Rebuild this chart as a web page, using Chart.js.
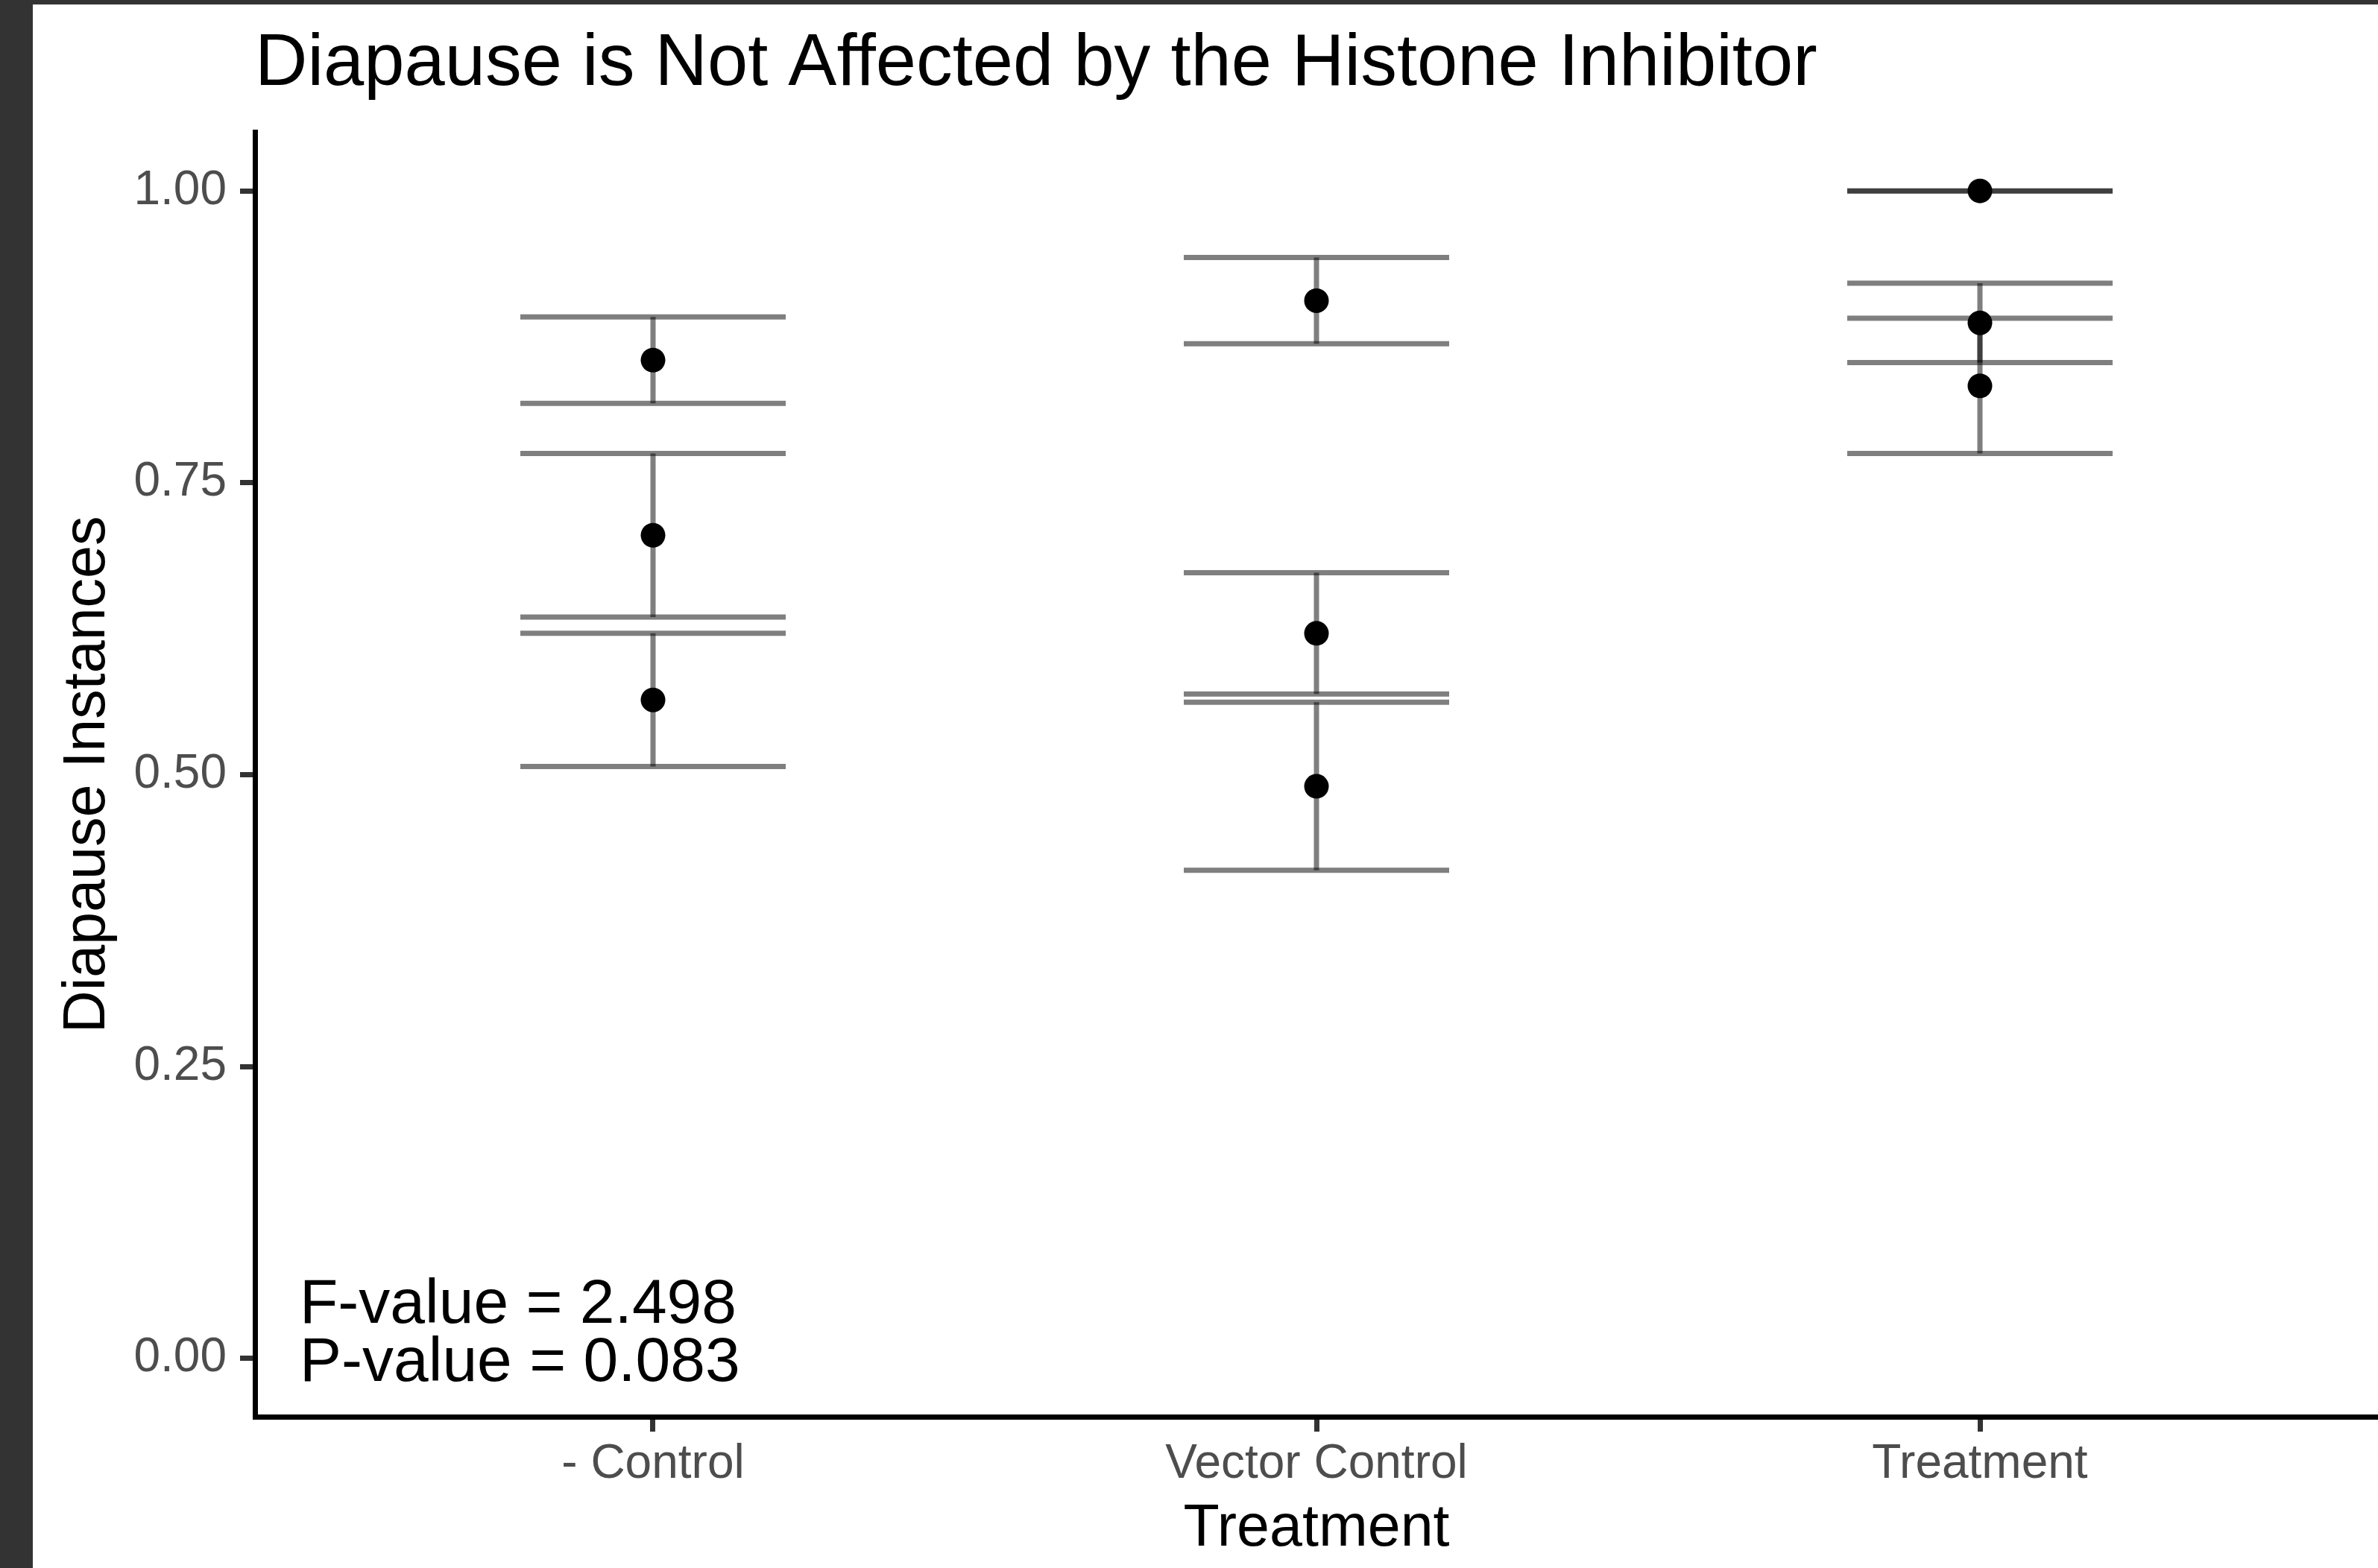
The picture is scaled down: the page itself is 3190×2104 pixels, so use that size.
<!DOCTYPE html>
<html>
<head>
<meta charset="utf-8">
<title>Diapause is Not Affected by the Histone Inhibitor</title>
<script src="https://cdn.jsdelivr.net/npm/chart.js@4.4.1/dist/chart.umd.min.js"></script>
<style>
    html, body {
        margin: 0;
        padding: 0;
        background: #333333;
        width: 3190px;
        height: 2104px;
        overflow: hidden;
    }
    #chartBox {
        position: absolute;
        left: 44px;
        top: 6px;
        width: 3146px;
        height: 2098px;
        background: #ffffff;
    }
</style>
</head>
<body>
<div id="chartBox"><canvas id="chartContainer" width="3146" height="2098"></canvas></div>
<script>
const categories = ['- Control', 'Vector Control', 'Treatment'];

// three replicate means per group, with their standard errors
const controlMeans = [0.855, 0.705, 0.564];
const controlSE = [0.037, 0.070, 0.057];
const vectorMeans = [0.906, 0.621, 0.490];
const vectorSE = [0.037, 0.052, 0.072];
const treatmentMeans = [1.000, 0.887, 0.833];
const treatmentSE = [0.000, 0.034, 0.058];

const yTickValues = [0, 0.25, 0.5, 0.75, 1];
const statLines = ['F-value = 2.498', 'P-value = 0.083'];

const groupMeans = [controlMeans, vectorMeans, treatmentMeans];
const groupSE = [controlSE, vectorSE, treatmentSE];

const barColor = 'rgba(0, 0, 0, 0.5)';
const capHalf = 0.2;

function errorBarDatasets() {
    let sets = [];
    groupMeans.forEach((means, i) => {
        const x = i + 1;
        means.forEach((m, j) => {
            const hi = m + groupSE[i][j];
            const lo = m - groupSE[i][j];
            // each piece is its own line so overlaps darken like in the original
            const pieces = [
                [{x: x - capHalf, y: hi}, {x: x + capHalf, y: hi}],
                [{x: x, y: hi}, {x: x, y: lo}],
                [{x: x - capHalf, y: lo}, {x: x + capHalf, y: lo}]
            ];
            pieces.forEach(p => {
                sets.push({
                    type: 'line',
                    data: p,
                    borderColor: barColor,
                    borderWidth: 7,
                    pointRadius: 0,
                    fill: false,
                    order: 1
                });
            });
        });
    });
    return sets;
}

function pointData() {
    let pts = [];
    groupMeans.forEach((means, i) => {
        means.forEach(m => pts.push({x: i + 1, y: m}));
    });
    return pts;
}

// F / P value text in the lower left of the panel
const statsText = {
    id: 'statsText',
    afterDatasetsDraw(chart) {
        const ctx = chart.ctx;
        const y0 = chart.scales.y.getPixelForValue(0);
        ctx.save();
        ctx.fillStyle = '#000000';
        ctx.font = '84px "Liberation Sans", Arial, sans-serif';
        ctx.textAlign = 'left';
        ctx.textBaseline = 'alphabetic';
        ctx.fillText(statLines[0], chart.chartArea.left + 60, y0 - 48);
        ctx.fillText(statLines[1], chart.chartArea.left + 60, y0 + 30);
        ctx.restore();
    }
};

Chart.defaults.font.family = '"Liberation Sans", Arial, sans-serif';

let chart;

function loadChart() {
    const ctx = document.getElementById('chartContainer').getContext('2d');

    const datasets = [{
        type: 'scatter',
        data: pointData(),
        backgroundColor: '#000000',
        borderWidth: 0,
        pointRadius: 16.5,
        order: 0
    }].concat(errorBarDatasets());

    chart = new Chart(ctx, {
        type: 'scatter',
        data: { datasets: datasets },
        plugins: [statsText],
        options: {
            responsive: false,
            animation: false,
            events: [],
            layout: { padding: 0, autoPadding: false },
            plugins: {
                legend: { display: false },
                tooltip: { enabled: false },
                title: {
                    display: true,
                    text: 'Diapause is Not Affected by the Histone Inhibitor',
                    align: 'start',
                    fullSize: false,
                    color: '#000000',
                    font: { size: 97.5, weight: 'normal', lineHeight: 1.2 },
                    padding: { top: 23, bottom: 31.8 }
                }
            },
            scales: {
                x: {
                    type: 'linear',
                    min: 0.4,
                    max: 3.6,
                    afterBuildTicks: axis => {
                        axis.ticks = categories.map((c, i) => ({value: i + 1}));
                    },
                    afterFit: scale => { scale.height = 203; },
                    ticks: {
                        callback: v => categories[v - 1],
                        color: '#4d4d4d',
                        font: { size: 64 },
                        padding: 6,
                        autoSkip: false,
                        maxRotation: 0
                    },
                    grid: {
                        drawOnChartArea: false,
                        drawTicks: true,
                        tickLength: 20,
                        tickWidth: 7,
                        tickColor: '#333333'
                    },
                    border: { display: true, color: '#000000', width: 7 },
                    title: {
                        display: true,
                        text: 'Treatment',
                        color: '#000000',
                        font: { size: 79, lineHeight: 1.2 },
                        padding: { top: 0, bottom: 4.4 }
                    }
                },
                y: {
                    type: 'linear',
                    min: -0.05,
                    max: 1.05,
                    afterBuildTicks: axis => {
                        axis.ticks = yTickValues.map(v => ({value: v}));
                    },
                    afterFit: scale => { scale.width = 298; },
                    ticks: {
                        callback: v => v.toFixed(2),
                        color: '#4d4d4d',
                        font: { size: 64 },
                        padding: 18
                    },
                    grid: {
                        drawOnChartArea: false,
                        drawTicks: true,
                        tickLength: 20,
                        tickWidth: 7,
                        tickColor: '#333333'
                    },
                    border: { display: true, color: '#000000', width: 7 },
                    title: {
                        display: true,
                        text: 'Diapause Instances',
                        color: '#000000',
                        font: { size: 79, lineHeight: 1.2 },
                        padding: { top: 27, bottom: 0 }
                    }
                }
            }
        }
    });
}

loadChart();
</script>
</body>
</html>
